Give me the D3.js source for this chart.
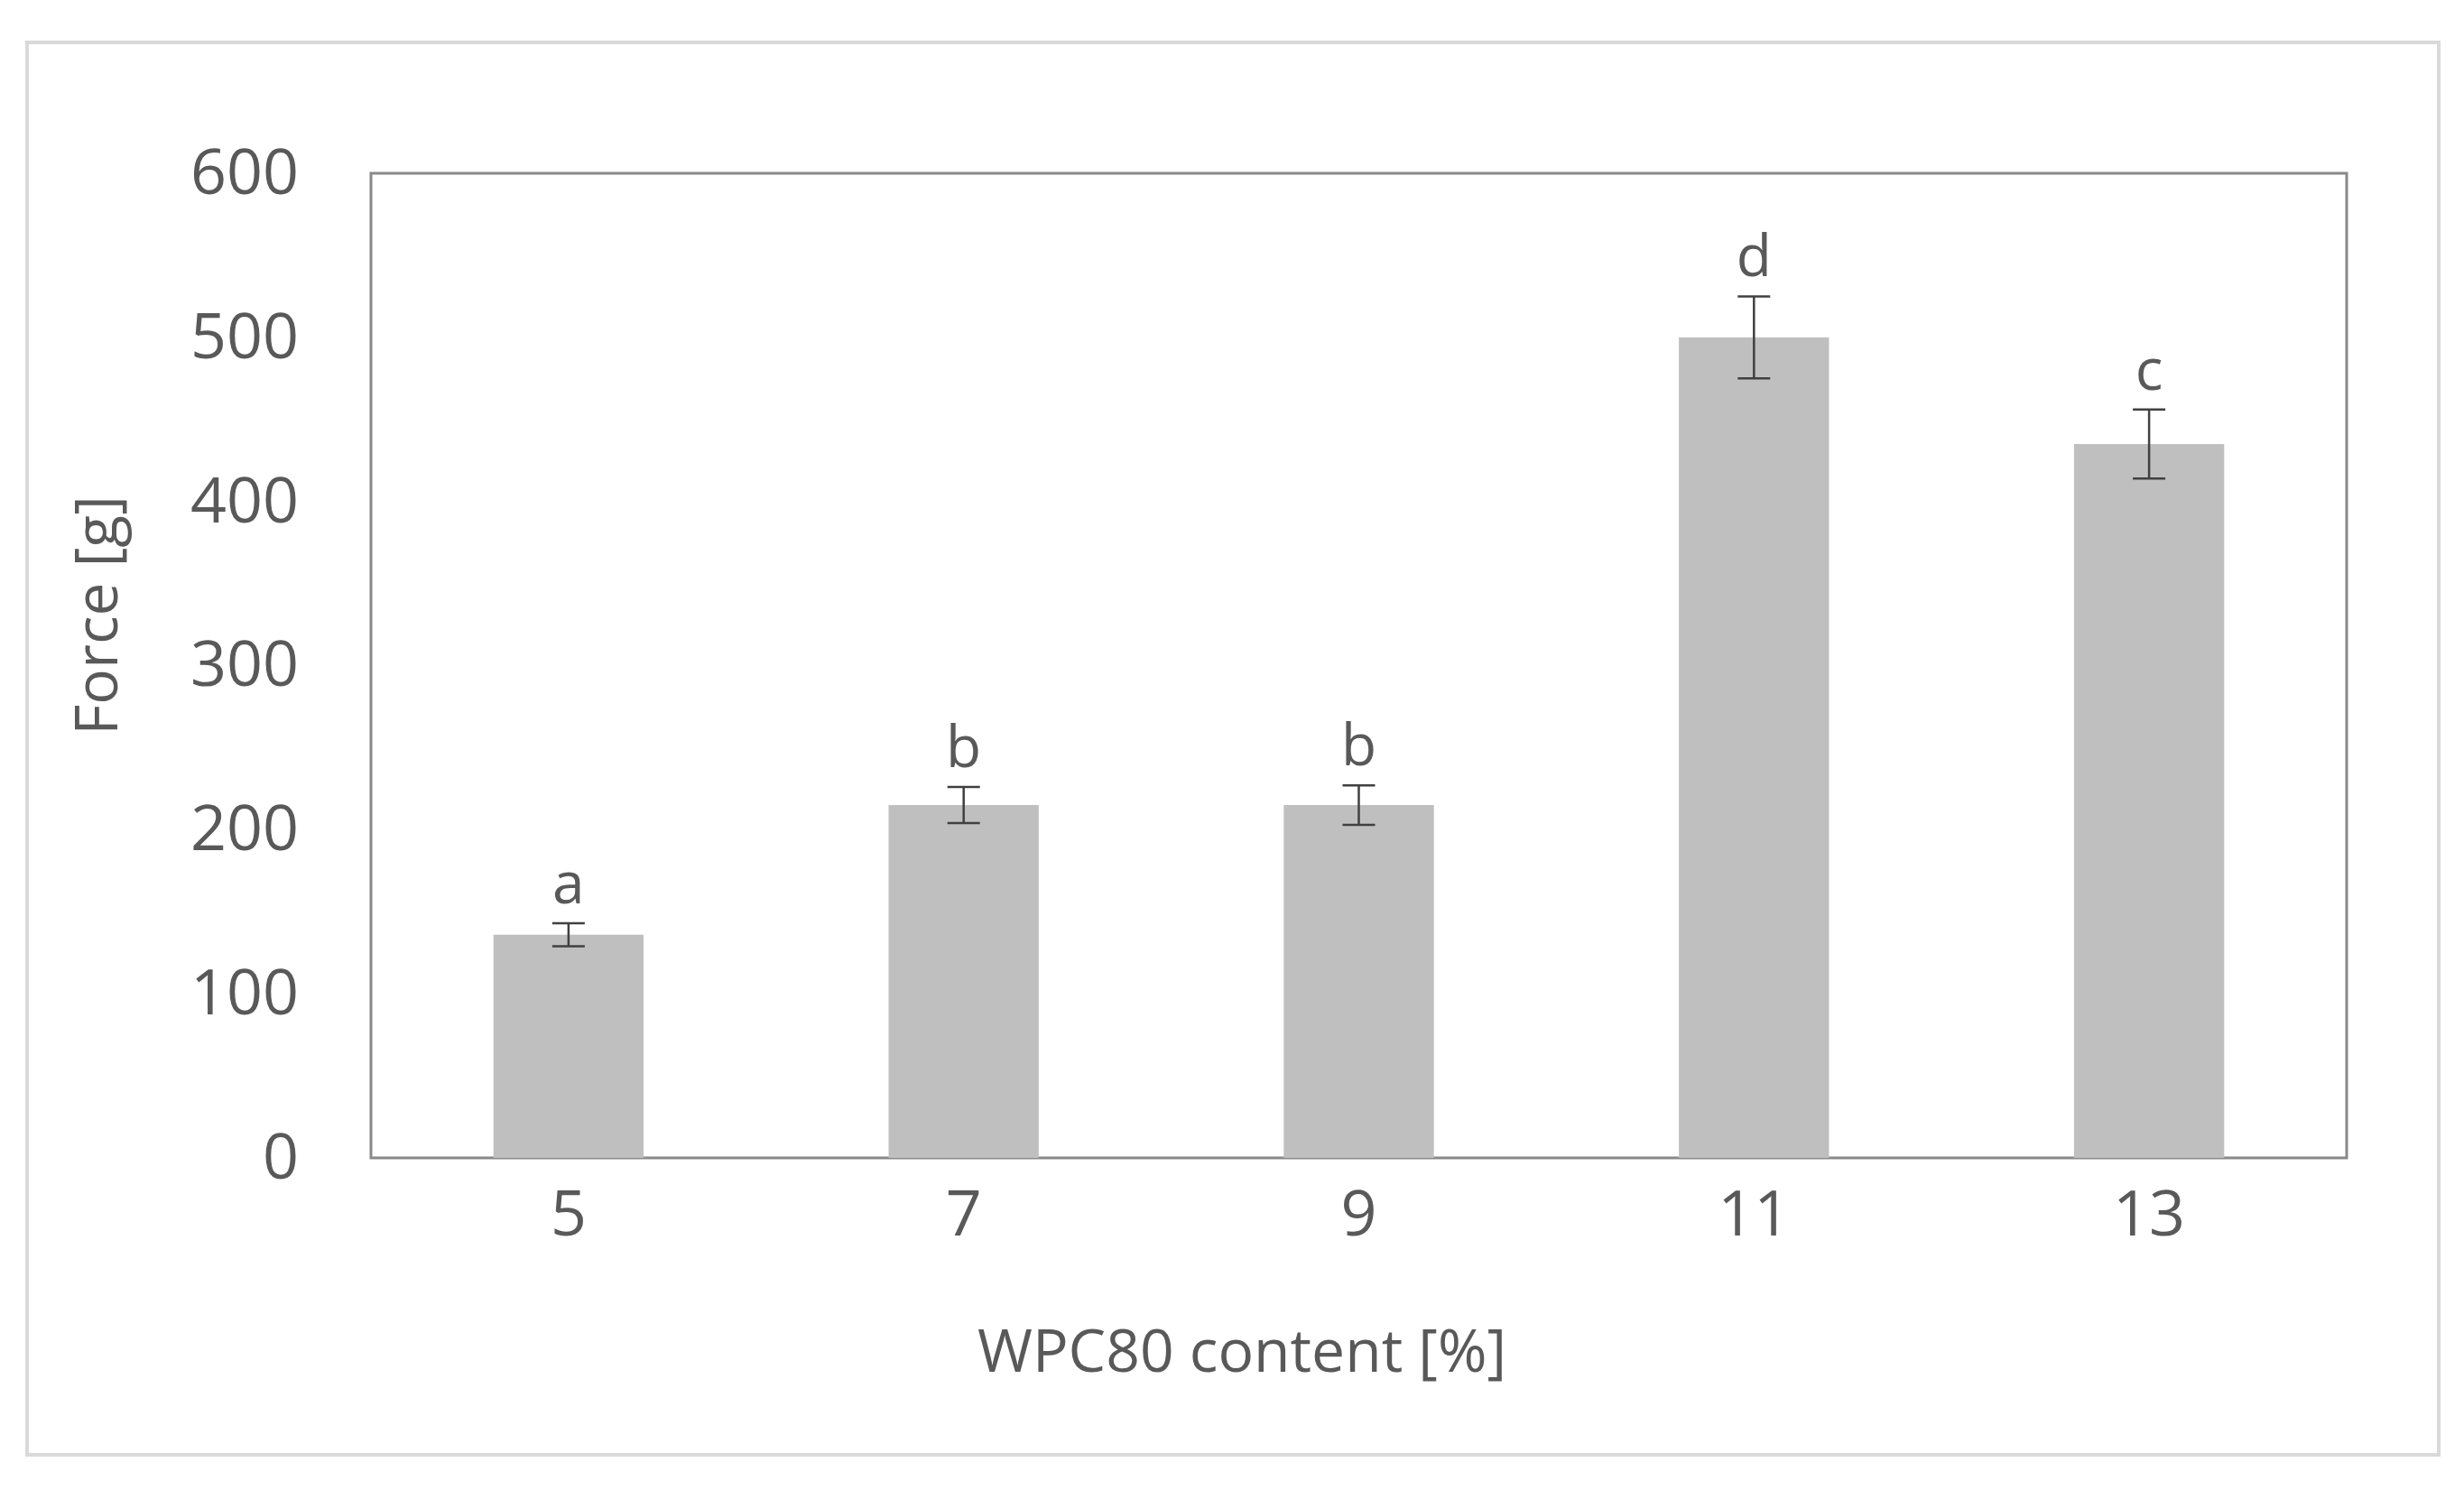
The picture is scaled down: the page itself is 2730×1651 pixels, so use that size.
<html>
<head>
	<script src="https://d3js.org/d3.v7.min.js"></script>
	<style>
		body { margin: 0; background: #fff; }
		text { font-family: "Open Sans", "Noto Sans", sans-serif; fill: #595959; }
	</style>
</head>
<body>
	<div id="chart"></div>
	<script>
		let categories = ["5", "7", "9", "11", "13"];
		let forces = [136, 215, 215, 500, 435];
		let errors = [7, 11, 12, 25, 21];
		let groups = ["a", "b", "b", "d", "c"];
		let yTicks = [0, 100, 200, 300, 400, 500, 600];

		let W = 2730, H = 1651;
		let pLeft = 411, pRight = 2600, pTop = 192, pBottom = 1283;

		let svg = d3.select("#chart").append("svg")
			.attr("width", W).attr("height", H);

		// outer frame
		svg.append("rect")
			.attr("x", 30).attr("y", 47).attr("width", 2672).attr("height", 1565)
			.attr("fill", "none").attr("stroke", "#d9d9d9").attr("stroke-width", 4);

		let x = d3.scaleBand().domain(categories).range([pLeft, pRight]).paddingInner(0.62).paddingOuter(0.31);
		let y = d3.scaleLinear().domain([0, 600]).range([pBottom, pTop]);

		// plot area border
		svg.append("rect")
			.attr("x", pLeft).attr("y", pTop).attr("width", pRight - pLeft).attr("height", pBottom - pTop)
			.attr("fill", "none").attr("stroke", "#898989").attr("stroke-width", 3);

		svg.selectAll("rect.bar").data(forces).enter().append("rect")
			.attr("class", "bar")
			.attr("x", (d, i) => x(categories[i]))
			.attr("width", x.bandwidth())
			.attr("y", d => y(d))
			.attr("height", d => pBottom - y(d))
			.attr("fill", "#bfbfbf");

		// error bars
		let eb = svg.selectAll("g.err").data(forces).enter().append("g")
			.attr("stroke", "#404040").attr("stroke-width", 2.5);
		eb.append("line")
			.attr("x1", (d, i) => x(categories[i]) + x.bandwidth() / 2)
			.attr("x2", (d, i) => x(categories[i]) + x.bandwidth() / 2)
			.attr("y1", (d, i) => y(d + errors[i]))
			.attr("y2", (d, i) => y(d - errors[i]));
		[1, -1].forEach(s => {
			eb.append("line")
				.attr("x1", (d, i) => x(categories[i]) + x.bandwidth() / 2 - 18)
				.attr("x2", (d, i) => x(categories[i]) + x.bandwidth() / 2 + 18)
				.attr("y1", (d, i) => y(d + s * errors[i]))
				.attr("y2", (d, i) => y(d + s * errors[i]));
		});

		// significance letters
		svg.selectAll("text.grp").data(forces).enter().append("text")
			.attr("x", (d, i) => x(categories[i]) + x.bandwidth() / 2)
			.attr("y", (d, i) => y(d + errors[i]) - 22)
			.attr("text-anchor", "middle")
			.attr("font-size", 64)
			.text((d, i) => groups[i]);

		let yAxis = svg.append("g").attr("transform", "translate(" + pLeft + ",0)")
			.call(d3.axisLeft(y).tickValues(yTicks).tickSize(0).tickPadding(80));
		yAxis.select(".domain").remove();
		yAxis.selectAll("text").attr("font-size", 70).attr("fill", "#595959");

		let xAxis = svg.append("g").attr("transform", "translate(0," + pBottom + ")")
			.call(d3.axisBottom(x).tickSize(0).tickPadding(36));
		xAxis.select(".domain").remove();
		xAxis.selectAll("text").attr("font-size", 70).attr("fill", "#595959");

		svg.append("text")
			.attr("x", 1376).attr("y", 1520)
			.attr("text-anchor", "middle").attr("font-size", 66)
			.text("WPC80 content [%]");

		svg.append("text")
			.attr("transform", "translate(130,682) rotate(-90)")
			.attr("text-anchor", "middle").attr("font-size", 66)
			.text("Force [g]");
	</script>
</body>
</html>
